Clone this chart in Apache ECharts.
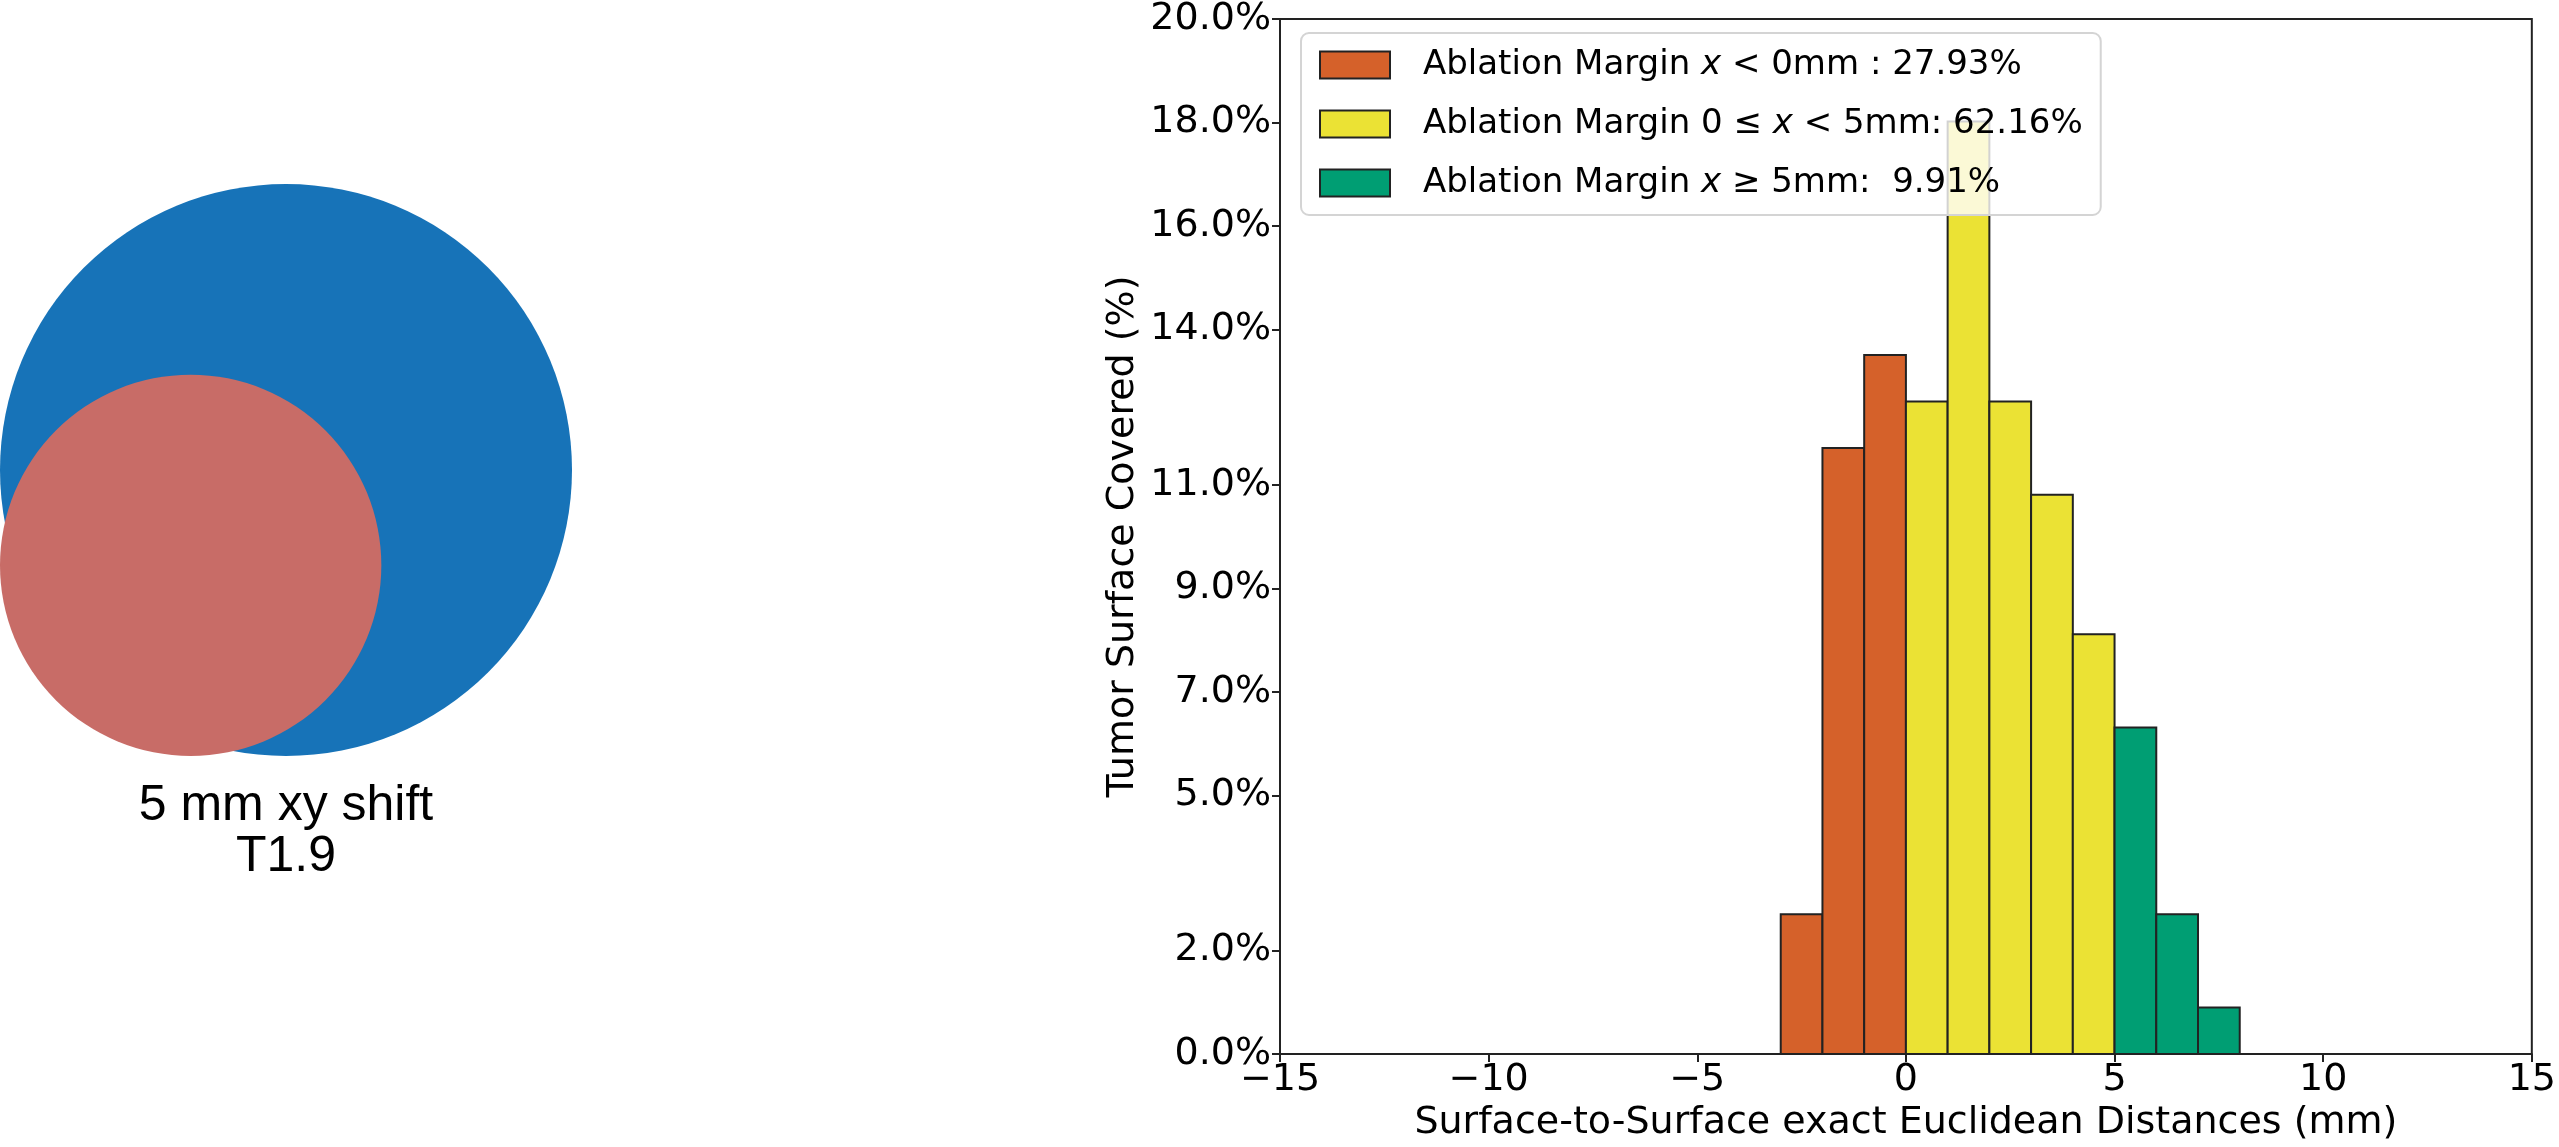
<!DOCTYPE html>
<html>
<head>
<meta charset="utf-8">
<script src="https://cdn.jsdelivr.net/npm/echarts@6.0.0/dist/echarts.min.js"></script>
<style>
  html, body { margin: 0; padding: 0; background: #fff; }
  #main { width: 2559px; height: 1147px; }
</style>
</head>
<body>
<div id="main"></div>
<script>
// histogram bins (left edge, mm) and share of tumour surface (%)
var negStarts = [-3, -2, -1];
var negValues = [2.70, 11.71, 13.51];
var midStarts = [0, 1, 2, 3, 4];
var midValues = [12.61, 18.02, 12.61, 10.81, 8.11];
var posStarts = [5, 6, 7];
var posValues = [6.31, 2.70, 0.90];
var binWidth = 1;

var legendNames = [
  'Ablation Margin x < 0mm : 27.93%',
  'Ablation Margin 0 ≤ x < 5mm: 62.16%',
  'Ablation Margin x ≥ 5mm:  9.91%'
];
var legendRich = [
  'Ablation Margin {i|x} < 0mm : 27.93%',
  'Ablation Margin 0 ≤ {i|x} < 5mm: 62.16%',
  'Ablation Margin {i|x} ≥ 5mm:  9.91%'
];

var yTicks = [0, 2, 5, 7, 9, 11, 14, 16, 18, 20];

// the two contours on the left (mm)
var circleX = [0, -5];
var circleY = [0, -5];
var circleR = [15, 10];
var circleColors = ['#1773b8', '#c86c67'];

var chart = echarts.init(document.getElementById('main'));

function toBins(starts, values) {
  return starts.map(function (s, i) { return [s, s + binWidth, values[i]]; });
}

function renderBin(params, api) {
  var p0 = api.coord([api.value(0), api.value(2)]);
  var p1 = api.coord([api.value(1), 0]);
  return {
    type: 'rect',
    shape: { x: p0[0], y: p0[1], width: p1[0] - p0[0], height: p1[1] - p0[1] },
    style: { fill: api.visual('color'), stroke: '#222', lineWidth: 2 }
  };
}

function renderCircle(params, api) {
  var c = api.coord([api.value(0), api.value(1)]);
  var r = api.size([api.value(2), 0])[0];
  return {
    type: 'circle',
    shape: { cx: c[0], cy: c[1], r: r },
    style: { fill: circleColors[params.dataIndex] }
  };
}

var font = 'DejaVu Sans';
var barColors = ['#d5612a', '#ebe234', '#009e73'];

var option = {
  animation: false,
  backgroundColor: '#fff',
  textStyle: { fontFamily: font },
  grid: [
    { left: 1280, top: 14, right: 22, bottom: 89, show: true, borderColor: '#222', borderWidth: 2 },
    { left: 0, top: 184, width: 572, height: 572 }
  ],
  xAxis: [
    {
      type: 'value', gridIndex: 0, min: -15, max: 15, interval: 5,
      name: 'Surface-to-Surface exact Euclidean Distances (mm)',
      nameLocation: 'middle', nameGap: 48,
      nameTextStyle: { fontSize: 38, color: '#000', fontFamily: font },
      axisLine: { show: true, onZero: false, lineStyle: { color: '#222', width: 2 } },
      axisTick: { show: true, length: 8, lineStyle: { color: '#222', width: 2 } },
      axisLabel: {
        fontSize: 38, color: '#000', margin: 7, fontFamily: font,
        formatter: function (v) { return v < 0 ? '\u2212' + Math.abs(v) : String(v); }
      },
      splitLine: { show: false }
    },
    { type: 'value', gridIndex: 1, min: -15, max: 15, show: false }
  ],
  yAxis: [
    {
      type: 'value', gridIndex: 0, min: 0, max: 20,
      name: 'Tumor Surface Covered (%)',
      nameLocation: 'middle', nameGap: 138,
      nameTextStyle: { fontSize: 38, color: '#000', fontFamily: font },
      axisLine: { show: true, onZero: false, lineStyle: { color: '#222', width: 2 } },
      axisTick: { show: true, length: 8, customValues: yTicks, lineStyle: { color: '#222', width: 2 } },
      axisLabel: {
        fontSize: 38, color: '#000', margin: 9, fontFamily: font,
        customValues: yTicks,
        formatter: function (v) { return v.toFixed(1) + '%'; }
      },
      splitLine: { show: false }
    },
    { type: 'value', gridIndex: 1, min: -15, max: 15, show: false }
  ],
  legend: {
    orient: 'vertical',
    left: 1301, top: 33,
    padding: [14, 18, 14, 18],
    itemWidth: 70, itemHeight: 27, itemGap: 23,
    icon: 'rect',
    backgroundColor: 'rgba(255,255,255,0.8)',
    borderColor: '#d4d4d4', borderWidth: 2, borderRadius: 8,
    selectedMode: false,
    data: legendNames,
    formatter: function (name) { return legendRich[legendNames.indexOf(name)]; },
    textStyle: {
      fontFamily: font, fontSize: 34, color: '#000', lineHeight: 36,
      padding: [0, 0, 0, 28],
      rich: { i: { fontStyle: 'italic', fontFamily: font, fontSize: 34, color: '#000' } }
    }
  },
  series: [
    {
      name: legendNames[0], type: 'custom', xAxisIndex: 0, yAxisIndex: 0,
      renderItem: renderBin, encode: { x: [0, 1], y: 2 },
      itemStyle: { color: barColors[0], borderColor: '#222', borderWidth: 2 },
      data: toBins(negStarts, negValues)
    },
    {
      name: legendNames[1], type: 'custom', xAxisIndex: 0, yAxisIndex: 0,
      renderItem: renderBin, encode: { x: [0, 1], y: 2 },
      itemStyle: { color: barColors[1], borderColor: '#222', borderWidth: 2 },
      data: toBins(midStarts, midValues)
    },
    {
      name: legendNames[2], type: 'custom', xAxisIndex: 0, yAxisIndex: 0,
      renderItem: renderBin, encode: { x: [0, 1], y: 2 },
      itemStyle: { color: barColors[2], borderColor: '#222', borderWidth: 2 },
      data: toBins(posStarts, posValues)
    },
    {
      name: 'contours', type: 'custom', xAxisIndex: 1, yAxisIndex: 1,
      renderItem: renderCircle, encode: { x: 0, y: 1 },
      data: circleX.map(function (x, i) { return [x, circleY[i], circleR[i]]; })
    }
  ],
  graphic: [
    {
      type: 'text', x: 286, y: 832,
      style: {
        text: '5 mm xy shift\nT1.9',
        align: 'center', verticalAlign: 'middle',
        fontFamily: 'Liberation Sans', fontSize: 50, lineHeight: 51, fill: '#000'
      }
    }
  ]
};

chart.setOption(option);
</script>
</body>
</html>
